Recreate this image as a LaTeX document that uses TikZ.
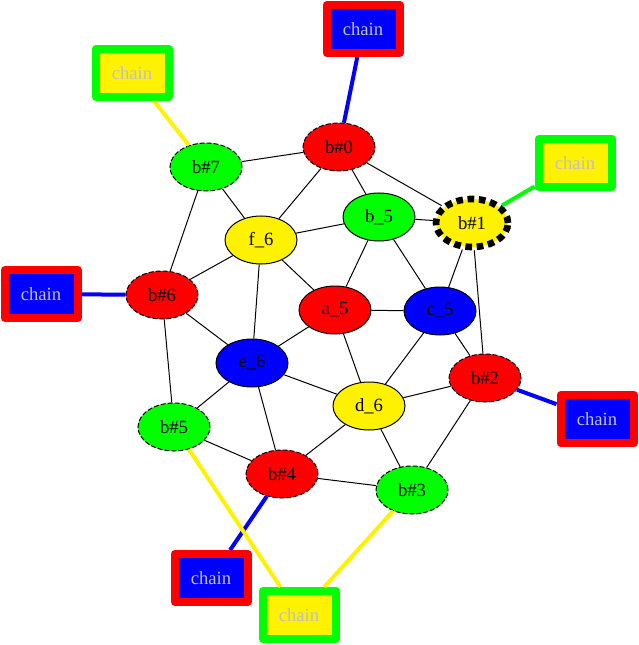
\documentclass[tikz,border=0pt]{standalone}
\usepackage{xcolor}
\usepackage{fontspec}
\setmainfont{Liberation Serif}
\usepackage{tikz}
\usetikzlibrary{shapes.geometric}
\definecolor{chaingray}{RGB}{192,192,192}

\begin{document}
\begin{tikzpicture}[x=0.75pt, y=-0.75pt, every node/.style={font=\rmfamily\fontsize{14pt}{16pt}\selectfont}, gnode/.style={draw, ellipse, minimum width=54pt, minimum height=36pt, inner sep=0pt, line width=0.75pt}, bnode/.style={gnode, dash pattern=on 3.75pt off 1.5pt}, chainbox/.style={draw, rectangle, line width=6pt, line join=round, minimum width=54.75pt, minimum height=36pt, inner sep=0pt, text=chaingray}, link/.style={line width=0.75pt}, clink/.style={line width=3pt}]
\useasboundingbox (0,0) rectangle (638,645);
\node[bnode, fill=red] (b0) at (339,147) {b\#0};
\node[gnode, fill=yellow, line width=5pt, dash pattern=on 5pt off 3.5pt] (b1) at (472,223) {b\#1};
\node[bnode, fill=red] (b2) at (485,378) {b\#2};
\node[bnode, fill=green] (b3) at (412,490) {b\#3};
\node[bnode, fill=red] (b4) at (282,474) {b\#4};
\node[bnode, fill=green] (b5) at (174,427) {b\#5};
\node[bnode, fill=red] (b6) at (162,295) {b\#6};
\node[bnode, fill=green] (b7) at (206,167) {b\#7};
\node[gnode, fill=red] (a5) at (335,310) {a\_5};
\node[gnode, fill=green] (bb5) at (379,217) {b\_5};
\node[gnode, fill=blue] (c5) at (440,311) {c\_5};
\node[gnode, fill=yellow] (d6) at (369,406) {d\_6};
\node[gnode, fill=blue] (e6) at (252,363) {e\_6};
\node[gnode, fill=yellow] (f6) at (261,240) {f\_6};
\node[chainbox, draw=red, fill=blue] (chain0) at (363,29) {chain};
\node[chainbox, draw=green, fill=yellow] (chain1) at (575,163) {chain};
\node[chainbox, draw=red, fill=blue] (chain2) at (597,419) {chain};
\node[chainbox, draw=red, fill=blue] (chain4) at (211,578) {chain};
\node[chainbox, draw=green, fill=yellow] (chain35) at (299,615) {chain};
\node[chainbox, draw=red, fill=blue] (chain6) at (41,294) {chain};
\node[chainbox, draw=green, fill=yellow] (chain7) at (132,73) {chain};
\draw[link] (b7) -- (b0);
\draw[link] (b7) -- (f6);
\draw[link] (b7) -- (b6);
\draw[link] (b0) -- (f6);
\draw[link] (b0) -- (bb5);
\draw[link] (b0) -- (b1);
\draw[link] (bb5) -- (b1);
\draw[link] (f6) -- (bb5);
\draw[link] (f6) -- (b6);
\draw[link] (f6) -- (a5);
\draw[link] (f6) -- (e6);
\draw[link] (bb5) -- (a5);
\draw[link] (bb5) -- (c5);
\draw[link] (b1) -- (c5);
\draw[link] (b1) -- (b2);
\draw[link] (a5) -- (c5);
\draw[link] (a5) -- (e6);
\draw[link] (a5) -- (d6);
\draw[link] (c5) -- (d6);
\draw[link] (c5) -- (b2);
\draw[link] (b6) -- (e6);
\draw[link] (b6) -- (b5);
\draw[link] (e6) -- (b5);
\draw[link] (e6) -- (d6);
\draw[link] (e6) -- (b4);
\draw[link] (d6) -- (b2);
\draw[link] (d6) -- (b4);
\draw[link] (d6) -- (b3);
\draw[link] (b5) -- (b4);
\draw[link] (b4) -- (b3);
\draw[link] (b2) -- (b3);
\draw[clink, blue] (b0) -- (chain0);
\draw[clink, green] (b1) -- (chain1);
\draw[clink, blue] (b2) -- (chain2);
\draw[clink, blue] (b4) -- (chain4);
\draw[clink, yellow] (b5) -- (chain35);
\draw[clink, yellow] (b3) -- (chain35);
\draw[clink, blue] (b6) -- (chain6);
\draw[clink, yellow] (b7) -- (chain7);
\end{tikzpicture}
\end{document}
